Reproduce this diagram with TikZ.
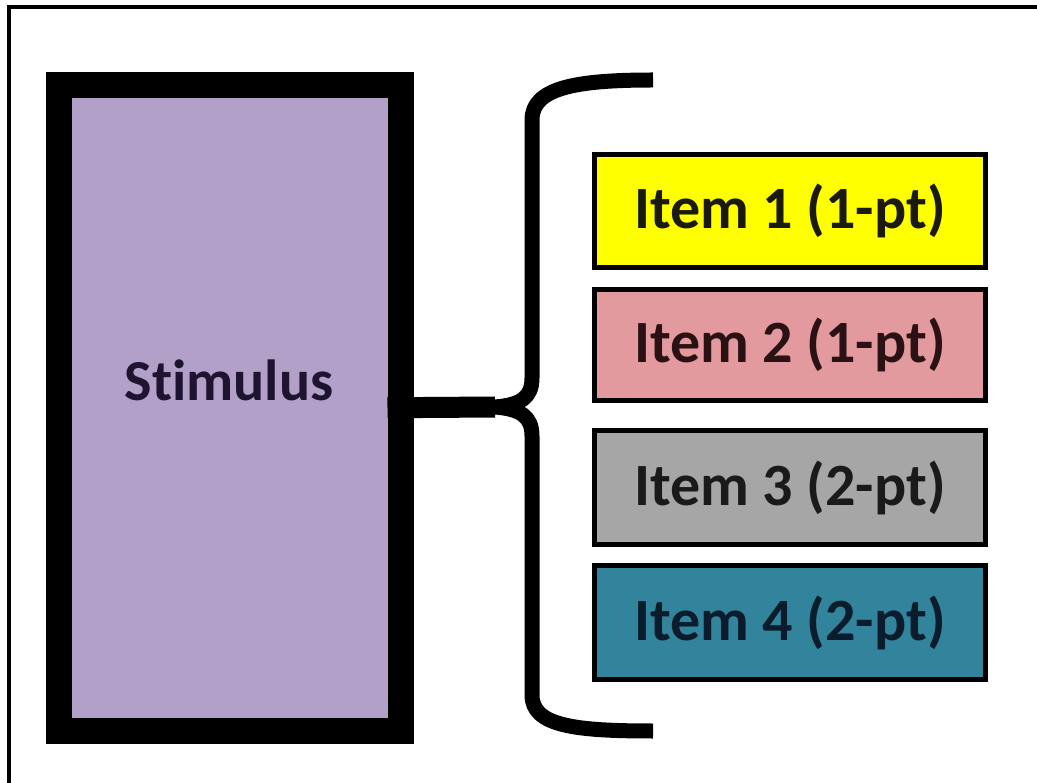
\documentclass[tikz,border=0pt]{standalone}
\usepackage{fontspec}
\setmainfont{Carlito}[Ligatures=NoCommon]
\definecolor{stimfill}{HTML}{B3A0C8}
\definecolor{stimtext}{HTML}{1E1430}
\definecolor{itemA}{HTML}{FFFF00}
\definecolor{itemB}{HTML}{E39A9E}
\definecolor{itemC}{HTML}{A6A6A6}
\definecolor{itemD}{HTML}{31849B}
\definecolor{textA}{HTML}{1A1A10}
\definecolor{textB}{HTML}{2A1214}
\definecolor{textC}{HTML}{1A1A1A}
\definecolor{textD}{HTML}{0B1C2C}
\begin{document}
\begin{tikzpicture}[x=1pt,y=-1pt,
  framebox/.style={draw=black,line width=26pt,fill=stimfill,rectangle,
    minimum width=342pt,minimum height=645.5pt,inner sep=0pt,outer sep=0pt},
  itembox/.style={draw=black,line width=5pt,rectangle,
    minimum width=391pt,minimum height=#1,inner sep=0pt,outer sep=0pt,
    font=\fontsize{60}{63}\selectfont\bfseries},
  bracestroke/.style={draw=black,line width=15pt,line cap=butt,line join=round},
  edgeline/.style={draw=black,line width=4.5pt}]
\useasboundingbox (0,0) rectangle (1037,783);
\fill[white] (0,0) rectangle (1037,783);

% page edges (top and left only)
\coordinate (tl) at (9,7);
\coordinate (tr) at (1037,7);
\coordinate (bl) at (9,783);
\draw[edgeline] (tr) -- (tl) -- (bl);

% stimulus block
\node[framebox] (stim) at (229.5,407.75) {};
\node[text=stimtext,font=\fontsize{58}{61}\selectfont\bfseries] (stimtxt) at (229,380) {Stimulus};

% item boxes
\node[itembox=113pt,fill=itemA,text=textA] (i1) at (790,211) {Item 1 (1-pt)};
\node[itembox=111pt,fill=itemB,text=textB] (i2) at (790,345) {Item 2 (1-pt)};
\node[itembox=114pt,fill=itemC,text=textC] (i3) at (790,487.5) {Item 3 (2-pt)};
\node[itembox=114pt,fill=itemD,text=textD] (i4) at (790,622.5) {Item 4 (2-pt)};

% curly brace
\coordinate (btop) at (653,80);
\coordinate (bbot) at (653,731);
\coordinate (tip) at (495,407);
\draw[bracestroke] (btop) .. controls (575,80) and (532,88) .. (532,120)
  -- (532,378) .. controls (532,398) and (520,405) .. (tip)
  .. controls (520,409) and (532,416) .. (532,436)
  -- (532,695) .. controls (532,726) and (575,731) .. (bbot);
% stem joining the block to the brace
\coordinate (stemstart) at ([xshift=-13pt]stim.east);
\draw[black,line width=21pt] (stemstart) -- (tip);
\end{tikzpicture}
\end{document}
